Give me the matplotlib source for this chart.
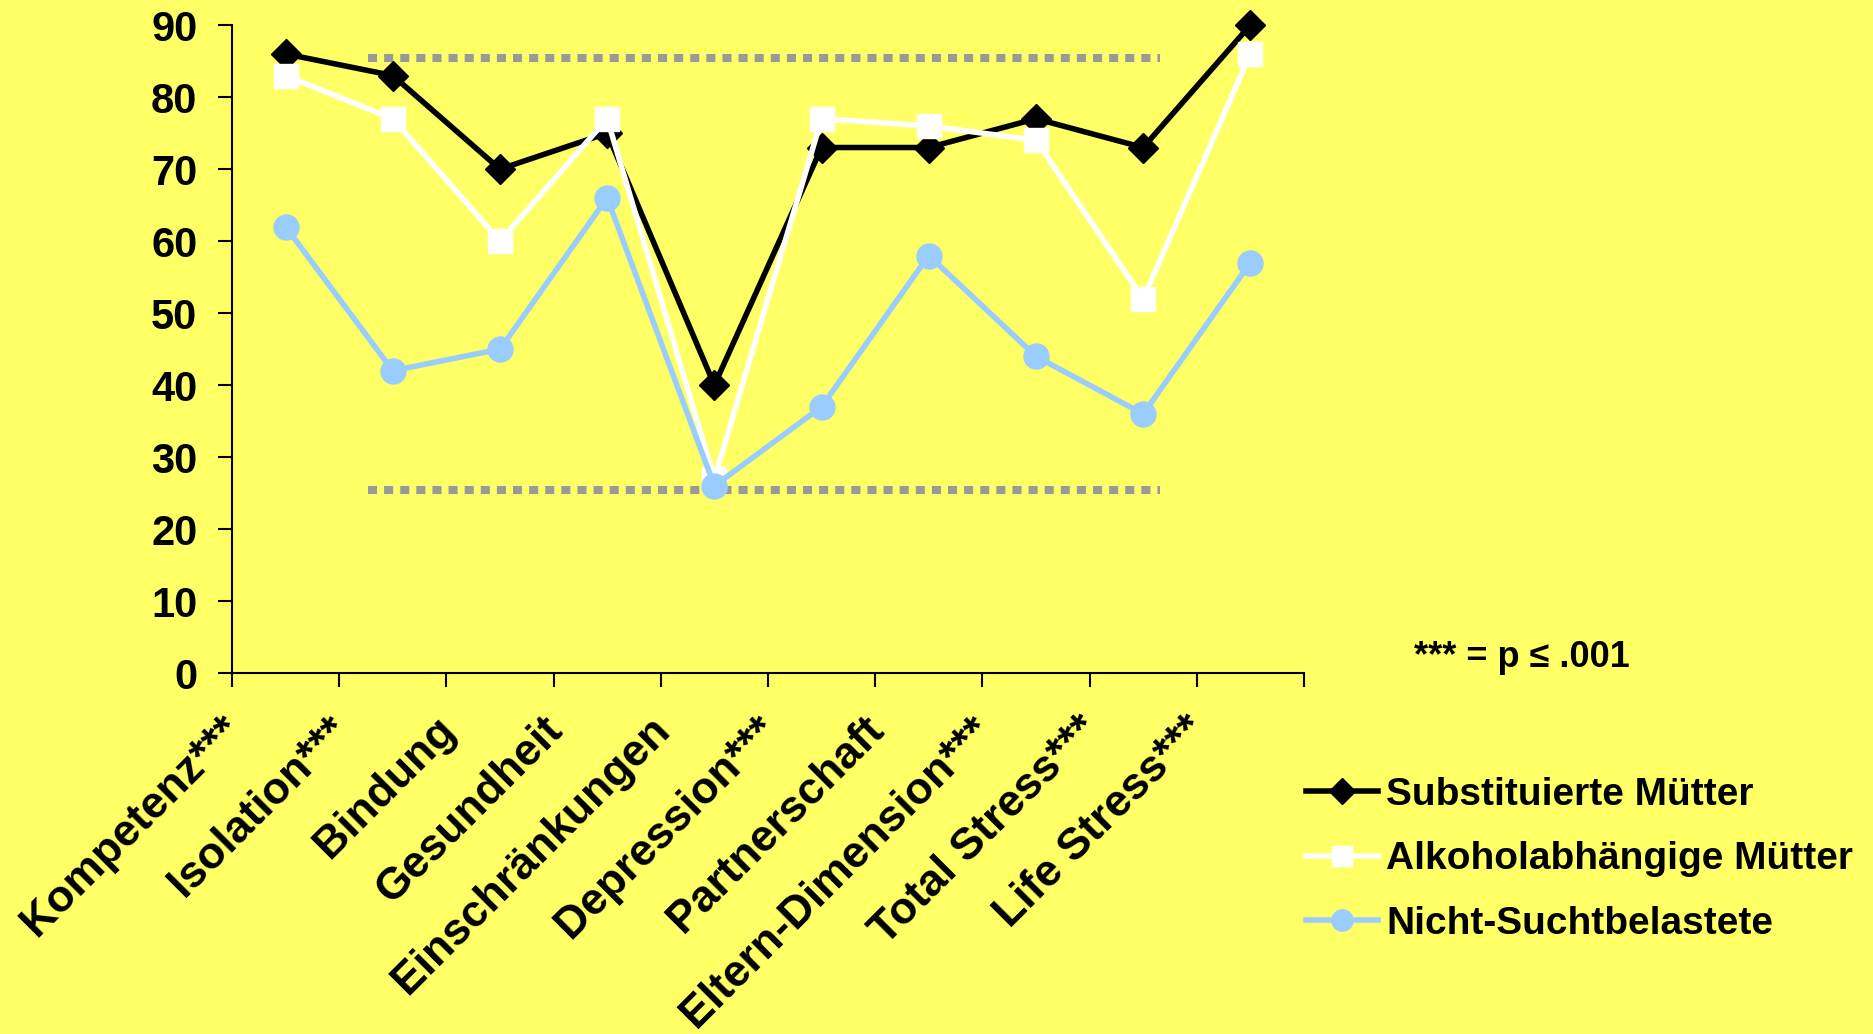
import numpy as np
import matplotlib
matplotlib.use("Agg")
import matplotlib.pyplot as plt
from matplotlib.transforms import ScaledTranslation

# categories and group means
categories = ["Kompetenz***", "Isolation***", "Bindung", "Gesundheit",
              "Einschränkungen", "Depression***", "Partnerschaft",
              "Eltern-Dimension***", "Total Stress***", "Life Stress***"]
substituiert = [86, 83, 70, 75, 40, 73, 73, 77, 73, 90]
alkohol = [83, 77, 60, 77, 27, 77, 76, 74, 52, 86]
nicht_sucht = [62, 42, 45, 66, 26, 37, 58, 44, 36, 57]
series_names = ["Substituierte Mütter", "Alkoholabhängige Mütter", "Nicht-Suchtbelastete"]
norm_upper = 85.4
norm_lower = 25.4
note = "*** = p ≤ .001"

BG = "#FFFF66"
plt.rcParams['font.family'] = ['Liberation Sans', 'DejaVu Sans']
plt.rcParams['font.weight'] = 'bold'

fig = plt.figure(figsize=(18.74, 10.34), dpi=100, facecolor=BG)
ax = fig.add_axes([0.1238, 0.349, 0.572, 0.6267])
ax.set_facecolor(BG)

x = np.arange(1, len(categories) + 1)

# normal range (dotted grey bands)
for v in (norm_upper, norm_lower):
    ax.axhline(v, xmin=0.127, xmax=0.866, color="#999999", lw=5.8,
               linestyle=(0, (1.125, 0.875)), dash_capstyle='butt', zorder=1)

ax.plot(x, substituiert, color="black", lw=4, marker="D", ms=15,
        mfc="black", mec="black", label=series_names[0], zorder=3)
ax.plot(x, alkohol, color="white", lw=4, marker="s", ms=17,
        mfc="white", mec="white", label=series_names[1], zorder=4)
ax.plot(x, nicht_sucht, color="#99CCFF", lw=4, marker="o", ms=18,
        mfc="#99CCFF", mec="#99CCFF", label=series_names[2], zorder=5)

ax.set_xlim(0.5, len(categories) + 0.5)
ax.set_ylim(0, 90)
ax.set_yticks(range(0, 91, 10))
ax.set_xticks(np.arange(0.5, len(categories) + 1, 1.0))
ax.set_xticklabels(categories + [""], rotation=45, ha="right", va="top",
                   rotation_mode="anchor")

for s in ("top", "right"):
    ax.spines[s].set_visible(False)
for s in ("left", "bottom"):
    ax.spines[s].set_linewidth(1.5)
ax.tick_params(axis="y", direction="out", length=10, width=1.5, pad=15, labelsize=30)
ax.tick_params(axis="x", direction="out", length=10, width=1.5, pad=16, labelsize=32)
shift = ScaledTranslation(-0.12, 0, fig.dpi_scale_trans)
for lab in ax.get_xticklabels():
    lab.set_fontweight("bold")
    lab.set_transform(lab.get_transform() + shift)
for lab in ax.get_yticklabels():
    lab.set_fontweight("bold")
for ln in ax.lines:
    ln.set_clip_on(False)

fig.text(0.7545, 0.3646, note, fontsize=26, fontweight="bold", va="center", ha="left")

leg = ax.legend(loc="upper left", bbox_to_anchor=(0.697, 0.249), bbox_transform=fig.transFigure,
                frameon=False, fontsize=28, handlelength=1.85, handletextpad=0.2,
                labelspacing=0.74, borderaxespad=0, borderpad=0, markerscale=0.85)
for t in leg.get_texts():
    t.set_fontweight("bold")

fig.savefig("out.png", dpi=100, facecolor=BG)
